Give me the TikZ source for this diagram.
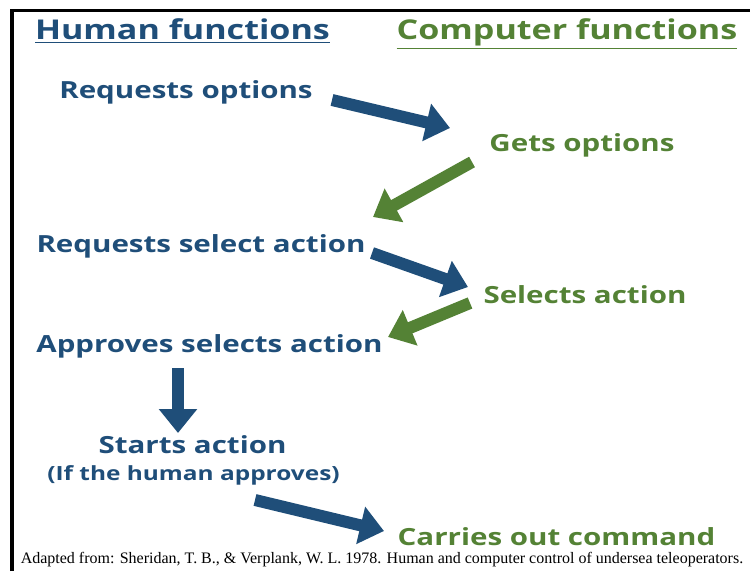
\documentclass[tikz,border=0pt]{standalone}
\usepackage{fontspec}
\setmainfont{Open Sans}
\newfontfamily\footfont{Liberation Serif}
\usetikzlibrary{arrows.meta}
\definecolor{hblue}{RGB}{31,78,121}
\definecolor{cgreen}{RGB}{84,130,53}
\newcommand\squash[2]{\scalebox{1}[#1]{#2}}
\tikzset{
  head/.style={font=\fontsize{19.4}{22}\selectfont\bfseries, inner sep=0pt, anchor=base},
  hstep/.style={text=hblue, font=\fontsize{16.8}{19}\selectfont\bfseries, inner sep=0pt, anchor=base},
  cstep/.style={text=cgreen, font=\fontsize{16.8}{19}\selectfont\bfseries, inner sep=0pt, anchor=base},
  harrow/.style={draw=hblue, line width=0.24cm, -{Triangle[length=0.48cm, width=0.74cm]}},
  carrow/.style={draw=cgreen, line width=0.24cm, -{Triangle[length=0.48cm, width=0.74cm]}}
}
\begin{document}
\begin{tikzpicture}[x=0.02cm, y=-0.02cm]
\useasboundingbox (0,0) rectangle (750,571);
% frame
\draw[line width=0.1cm] (12,571) -- (12,11);
\draw[line width=0.06cm] (10,11) -- (750,11);
% headings
\node[head, text=hblue] (HF) at (182.5,40) {\squash{0.8}{\underline{Human functions}}};
\node[head, text=cgreen] (CF) at (567,40) {\squash{0.8}{\underline{Computer functions}}};
% steps
\node[hstep] (RO) at (186,98) {\squash{0.8}{Requests options}};
\node[cstep] (GO) at (582,152) {\squash{0.8}{Gets options}};
\node[hstep] (RSA) at (201,252) {\squash{0.8}{Requests select action}};
\node[cstep] (SA) at (585,303) {\squash{0.8}{Selects action}};
\node[hstep] (ASA) at (209.5,352) {\squash{0.8}{Approves selects action}};
\node[hstep] (ST) at (192.5,453) {\squash{0.8}{Starts action}};
\node[hstep, font=\fontsize{13.9}{16}\selectfont\bfseries] (IF) at (193.5,480) {\squash{0.8}{(If the human approves)}};
\node[cstep] (CO) at (556.5,545) {\squash{0.8}{Carries out command}};
\node[inner sep=0pt, anchor=base, font=\footfont\fontsize{9.1}{10}\selectfont] (FN) at (382,563) {Adapted from: Sheridan, T. B., \& Verplank, W. L. 1978. Human and computer control of undersea teleoperators.};
% arrows
\draw[harrow] ([shift={(146,2)}]RO.base) -- ([shift={(-132,-24)}]GO.base);
\draw[carrow] ([shift={(-110,10)}]GO.base) -- ([shift={(172,-35)}]RSA.base);
\draw[harrow] ([shift={(171,1)}]RSA.base) -- ([shift={(-117,-16)}]SA.base);
\draw[carrow] ([shift={(-115,0)}]SA.base) -- ([shift={(178.5,-15)}]ASA.base);
\draw[harrow] ([shift={(-31.5,16)}]ASA.base) -- ([shift={(-14.5,-20)}]ST.base);
\draw[harrow] ([shift={(61.5,20)}]IF.base) -- ([shift={(-172.5,-14)}]CO.base);
\end{tikzpicture}
\end{document}
